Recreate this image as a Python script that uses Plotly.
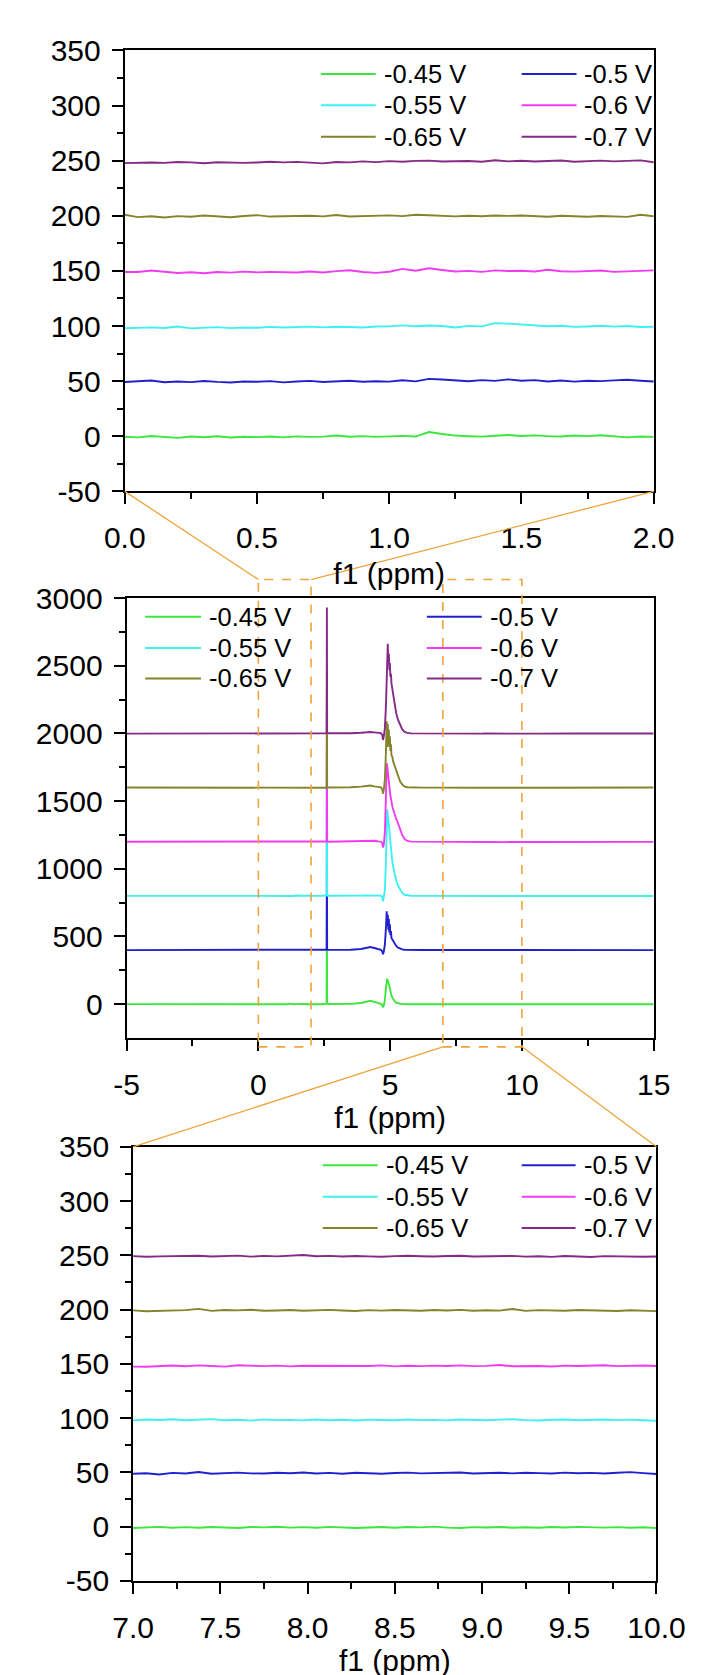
import numpy as np
import plotly.graph_objects as go

W, H = 710, 1675
FONT = "Liberation Sans, Arial, Helvetica, sans-serif"

# ---------------- data ----------------
series_names = ["-0.45 V", "-0.5 V", "-0.55 V", "-0.6 V", "-0.65 V", "-0.7 V"]
series_colors = ["#3ce63c", "#2020cc", "#3ef0f0", "#f03cf0", "#84842a", "#862a86"]

# chemical-shift sampling (ppm) of the stored spectra
edge_left_ppm = [-5.0, -3.5, -2.0, -0.6]
window_lo_ppm = np.round(np.linspace(0.0, 2.0, 41), 3)
peak_ppm = [2.10, 2.40, 2.55, 2.59, 2.60, 2.61, 2.65, 3.00, 3.50, 3.90,
            4.10, 4.25, 4.40, 4.55, 4.65, 4.70, 4.73, 4.76, 4.80, 4.84,
            4.87, 4.89, 4.91, 4.93, 4.95, 4.97, 4.99, 5.01, 5.03, 5.05,
            5.08, 5.12, 5.17, 5.23, 5.30, 5.38, 5.46, 5.55, 5.65, 5.80,
            6.20, 6.60, 6.90]
window_hi_ppm = np.round(np.linspace(7.0, 10.0, 41), 3)
edge_right_ppm = [10.6, 12.0, 13.5, 15.0]

# intensities (a.u.) before stacking offset
edge_l_045 = [0.3, -0.6, 0.2, -0.4]
edge_l_050 = [-0.5, 0.4, -0.8, -0.2]
edge_l_055 = [0.2, -0.7, 0.5, -1.4]
edge_l_060 = [-0.4, 0.6, -0.9, -1.2]
edge_l_065 = [0.5, -0.3, 0.8, -0.6]
edge_l_070 = [-0.8, -1.5, -0.3, -1.9]

lo_045 = [-0.5, -1.0, 0.2, -0.6, -1.5, -0.3, -0.9, 0.0, -1.2, -0.5,
          -0.8, -0.2, -1.0, -0.1, -0.6, -0.4, 0.7, -0.5, 0.1, -0.6,
          -0.2, 0.3, -0.3, 3.8, 2.0, 0.6, 0.0, -0.4, 0.5, 1.1,
          0.2, 0.8, 0.1, -0.3, 0.6, 0.1, 0.9, -0.3, -1.0, -0.2,
          -0.6]
lo_050 = [-0.8, -0.2, 0.6, -1.0, -0.3, -0.9, 0.1, -0.7, -1.2, -0.4,
          -0.6, 0.0, -1.1, -0.3, 0.2, -0.8, -0.2, 0.4, -0.6, -0.1,
          -0.5, 0.8, -0.2, 2.0, 1.5, 0.6, -0.1, 0.9, 0.2, 1.6,
          0.4, 0.9, -0.3, 0.5, -0.5, 0.3, 0.0, 0.7, 1.2, 0.4,
          -0.4]
lo_055 = [-2.0, -1.6, -1.2, -1.8, -0.4, -2.1, -1.5, -1.0, -1.9, -1.3,
          -1.6, -0.8, -1.4, -1.1, -0.6, -1.2, -0.7, -0.9, -1.3, -0.5,
          -0.3, 0.6, -0.2, 0.4, 0.0, -1.4, 0.1, -0.3, 2.6, 2.2,
          1.5, 0.4, -0.2, 0.3, -0.8, -0.4, 0.2, -0.6, 0.0, -0.9,
          -0.5]
lo_060 = [-1.5, -1.0, 0.4, -0.8, -1.9, -1.2, -2.1, -1.0, -1.6, -0.7,
          -1.3, -0.9, -1.1, -1.5, -0.6, -1.4, -0.2, 0.6, -1.0, -1.8,
          -0.8, 1.8, 0.2, 2.4, 0.8, -0.6, 0.0, -0.9, 0.5, -0.1,
          0.2, -0.5, 1.0, -0.3, -0.7, -0.2, 0.3, -0.9, -0.4, 0.1,
          0.5]
lo_065 = [1.0, -1.2, -0.4, -1.5, -0.3, -0.8, 0.2, -0.6, -1.3, -0.2,
          0.6, -0.7, -0.4, 0.3, 0.1, -0.5, 0.7, -0.6, -0.2, 0.0,
          0.4, -0.3, 0.9, 0.5, 0.2, -0.5, 0.0, -0.4, 0.3, -0.1,
          0.2, -0.6, -0.9, 0.1, -0.3, -0.8, -0.2, -0.5, -1.0, 0.9,
          -0.4]
lo_070 = [-2.2, -1.8, -1.6, -2.0, -1.2, -1.5, -2.3, -1.4, -1.7, -2.0,
          -1.6, -0.9, -1.5, -1.1, -1.8, -2.4, -1.2, -1.5, -0.6, -1.3,
          -0.4, -0.9, -0.2, 0.1, -0.8, -0.5, -0.3, -1.0, 0.4, -0.6,
          0.0, -0.7, -0.3, 0.2, -0.9, -0.4, 0.1, -0.6, -0.2, 0.3,
          -1.4]

peak_045 = [0, 0, 1, 4, 640, 5, 1, 0, 2, 9,
            20, 25, 17, 7, 2, -8, -24, -8, 30, 120,
            185, 189, 170, 165, 150, 130, 115, 95, 80, 65,
            50, 35, 22, 12, 6, 3, 1, 0, 0, 0,
            0, 0, 0]
peak_050 = [0, 0, 1, 4, 820, 6, 1, 0, 2, 8,
            16, 22, 15, 6, 2, -10, -32, -10, 40, 160,
            287, 180, 260, 150, 230, 130, 190, 110, 140, 90,
            80, 60, 45, 30, 18, 10, 5, 2, 1, 0,
            0, 0, 0]
peak_055 = [0, 1, 0, 4, 880, 6, 1, 0, 1, 2,
            4, 5, 4, 2, 1, -8, -40, -15, 40, 250,
            520, 640, 600, 560, 500, 460, 410, 370, 330, 300,
            260, 210, 160, 115, 75, 45, 22, 8, 3, 1,
            0, 0, 0]
peak_060 = [0, -1, 1, 3, 780, 5, 0, 1, 2, 4,
            7, 9, 7, 3, 1, -10, -42, -18, 70, 330,
            580, 560, 520, 470, 450, 400, 380, 340, 320, 290,
            265, 235, 200, 170, 135, 90, 50, 20, 6, 1,
            0, 0, 0]
peak_065 = [0, 1, -1, 4, 720, 6, 1, 0, 3, 7,
            13, 15, 9, 5, 2, -12, -45, -15, 60, 260,
            490, 300, 470, 330, 430, 300, 380, 270, 320, 240,
            230, 190, 160, 130, 85, 45, 22, 8, 3, 1,
            0, 0, -1]
peak_070 = [0, -2, 1, 5, 930, 8, 2, 0, 2, 5,
            9, 11, 8, 4, 3, -10, -48, -20, 40, 200,
            420, 610, 663, 520, 590, 470, 520, 420, 440, 370,
            330, 280, 210, 150, 100, 60, 30, 12, 4, 1,
            0, -1, 0]

hi_045 = [-1.4, -0.8, -0.3, -1.1, -0.6, -1.2, -0.5, -0.9, -1.3, -0.4,
          -0.8, -0.2, -1.0, -0.6, -1.1, -0.3, -0.7, -1.4, -0.9, -0.5,
          -1.2, -0.4, -0.8, -0.1, -1.0, -1.3, -0.6, -0.9, -0.4, -1.1,
          -0.7, -1.2, -0.5, -0.9, -0.3, -0.8, -1.0, -0.6, -1.2, -0.7,
          -1.5]
hi_050 = [-1.3, -0.9, -2.0, -0.6, -1.1, 0.2, -1.4, -0.8, -0.3, -1.0,
          -1.2, -0.5, -0.9, -0.2, -1.1, -0.6, -1.3, -0.4, -0.8, -1.4,
          -0.7, -0.3, -1.0, -0.6, -0.9, -0.2, -1.2, -0.7, -0.5, -1.0,
          -0.4, -0.8, -1.1, -0.3, -0.9, -0.6, -1.2, -0.5, 0.1, -0.8,
          -1.6]
hi_055 = [-2.2, -1.4, -1.8, -1.2, -2.0, -1.5, -1.0, -2.1, -1.6, -2.4,
          -1.3, -1.9, -1.7, -2.2, -1.4, -2.0, -1.6, -2.3, -1.5, -1.8,
          -2.1, -1.4, -1.9, -1.7, -2.2, -1.3, -1.8, -2.0, -1.5, -1.1,
          -1.9, -2.3, -1.6, -1.4, -2.0, -1.7, -1.3, -1.9, -1.5, -2.1,
          -2.6]
hi_060 = [-2.5, -2.8, -2.0, -1.6, -2.3, -1.5, -2.1, -2.6, -1.4, -1.9,
          -2.2, -1.7, -2.4, -1.8, -2.0, -1.6, -2.3, -1.9, -2.1, -1.5,
          -2.4, -1.8, -2.2, -1.7, -2.0, -1.5, -2.2, -1.9, -1.1, -2.3,
          -1.8, -2.0, -2.5, -1.7, -2.1, -1.9, -1.4, -2.2, -1.8, -1.6,
          -2.0]
hi_065 = [-0.8, -1.6, -1.2, -0.9, -0.6, 0.6, -1.3, -0.4, -0.8, -0.2,
          -1.1, -0.9, -0.5, -1.2, -0.7, -0.3, -0.9, -1.4, -0.6, -1.0,
          -0.5, -0.8, -1.2, -0.4, -0.9, -0.3, -1.1, -0.7, -1.0, 0.5,
          -1.3, -0.6, -0.9, -1.2, -0.5, -0.8, -1.0, -1.4, -0.7, -1.3,
          -1.5]
hi_070 = [-0.5, -1.4, -1.0, -0.7, -0.9, -0.4, -1.2, -0.8, -0.3, -1.3,
          -0.6, -1.0, -0.5, 0.3, -0.9, -0.6, -1.1, -0.7, -1.0, -1.4,
          -0.8, -0.5, -0.9, -1.2, -0.7, -0.4, -1.1, -0.8, -1.0, -0.6,
          -1.3, -0.9, -1.5, -0.7, -1.1, -1.6, -0.8, -1.2, -1.0, -1.4,
          -1.2]

edge_r_045 = [-0.9, -0.2, 0.4, -0.5]
edge_r_050 = [-1.1, -0.3, 0.5, -0.6]
edge_r_055 = [-1.9, -0.6, 0.3, -0.8]
edge_r_060 = [-1.7, -0.5, 0.2, -0.9]
edge_r_065 = [-1.2, 0.3, -0.4, 0.6]
edge_r_070 = [-1.0, -0.4, 0.7, -0.5]

mid_offset_step = 400    # stacking offset in the full-range panel
zoom_offset_step = 50    # stacking offset in the zoomed panels

# tick values / labels
zoom_y_ticks = [-50, 0, 50, 100, 150, 200, 250, 300, 350]
zoom_y_labels = ["-50", "0", "50", "100", "150", "200", "250", "300", "350"]
zoom_y_minor = [-25, 25, 75, 125, 175, 225, 275, 325]
top_x_ticks = [0.0, 0.5, 1.0, 1.5, 2.0]
top_x_labels = ["0.0", "0.5", "1.0", "1.5", "2.0"]
top_x_minor = [0.25, 0.75, 1.25, 1.75]
mid_x_ticks = [-5, 0, 5, 10, 15]
mid_x_labels = ["-5", "0", "5", "10", "15"]
mid_x_minor = [-2.5, 2.5, 7.5, 12.5]
mid_y_ticks = [0, 500, 1000, 1500, 2000, 2500, 3000]
mid_y_labels = ["0", "500", "1000", "1500", "2000", "2500", "3000"]
mid_y_minor = [250, 750, 1250, 1750, 2250, 2750]
bot_x_ticks = [7.0, 7.5, 8.0, 8.5, 9.0, 9.5, 10.0]
bot_x_labels = ["7.0", "7.5", "8.0", "8.5", "9.0", "9.5", "10.0"]
bot_x_minor = [7.25, 7.75, 8.25, 8.75, 9.25, 9.75]

top_range_x, top_range_y = [0, 2], [-50, 350]
mid_range_x, mid_range_y = [-5, 15], [-250, 3000]
bot_range_x, bot_range_y = [7, 10], [-50, 350]
zoom_windows = [(0, 2), (7, 10)]

# ---------------- layout geometry (pixels) ----------------
TOP_X, TOP_Y = (103, 672), (26, 476)
MID_X, MID_Y = (105, 672), (585, 1034)
BOT_X, BOT_Y = (112, 675), (1145, 1588)
BOX_Y = (566, 1043)


def px(p):
    return p / W


def py(p):
    return 1 - p / H


def dx(v, rng, span):
    return span[0] + (v - rng[0]) / (rng[1] - rng[0]) * (span[1] - span[0])


# ---------------- traces ----------------
ppm = np.concatenate([edge_left_ppm, window_lo_ppm, peak_ppm, window_hi_ppm, edge_right_ppm])
spectra = [
    (edge_l_045, lo_045, peak_045, hi_045, edge_r_045),
    (edge_l_050, lo_050, peak_050, hi_050, edge_r_050),
    (edge_l_055, lo_055, peak_055, hi_055, edge_r_055),
    (edge_l_060, lo_060, peak_060, hi_060, edge_r_060),
    (edge_l_065, lo_065, peak_065, hi_065, edge_r_065),
    (edge_l_070, lo_070, peak_070, hi_070, edge_r_070),
]

fig = go.Figure()
for i, (name, color, parts) in enumerate(zip(series_names, series_colors, spectra)):
    inten = np.concatenate([np.asarray(p, dtype=float) for p in parts])
    for xa, ya, step in (("x", "y", zoom_offset_step),
                         ("x2", "y2", mid_offset_step),
                         ("x3", "y3", zoom_offset_step)):
        fig.add_trace(go.Scatter(
            x=ppm, y=inten + i * step, mode="lines", name=name,
            line=dict(color=color, width=1.9),
            xaxis=xa, yaxis=ya, showlegend=False, hoverinfo="skip"))


def axis(rng, ticks, labels, minor, dom, anchor, is_x, title_standoff=None):
    d = dict(
        range=rng, domain=dom, anchor=anchor,
        tickmode="array", tickvals=ticks, ticktext=labels,
        showline=True, linecolor="black", linewidth=2, mirror=True,
        ticks="outside", ticklen=11, tickwidth=2, tickcolor="black",
        ticklabelstandoff=8 if is_x else 5,
        showgrid=False, zeroline=False,
        tickfont=dict(family=FONT, size=30, color="black"),
        minor=dict(tickmode="array", tickvals=minor, ticks="outside",
                   ticklen=6, tickwidth=2, tickcolor="black", showgrid=False),
    )
    if title_standoff is not None:
        d["title"] = dict(text="f1 (ppm)", font=dict(family=FONT, size=30, color="black"),
                          standoff=title_standoff)
    return d


fig.update_layout(
    width=W, height=H, autosize=False,
    margin=dict(l=0, r=0, t=0, b=0),
    paper_bgcolor="white", plot_bgcolor="white",
    font=dict(family=FONT, color="black"),
    xaxis=axis(top_range_x, top_x_ticks, top_x_labels, top_x_minor,
               [px(TOP_X[0]), px(TOP_X[1])], "y", True, 10),
    yaxis=axis(top_range_y, zoom_y_ticks, zoom_y_labels, zoom_y_minor,
               [py(TOP_Y[1]), py(TOP_Y[0])], "x", False),
    xaxis2=axis(mid_range_x, mid_x_ticks, mid_x_labels, mid_x_minor,
                [px(MID_X[0]), px(MID_X[1])], "y2", True, 2),
    yaxis2=axis(mid_range_y, mid_y_ticks, mid_y_labels, mid_y_minor,
                [py(MID_Y[1]), py(MID_Y[0])], "x2", False),
    xaxis3=axis(bot_range_x, bot_x_ticks, bot_x_labels, bot_x_minor,
                [px(BOT_X[0]), px(BOT_X[1])], "y3", True, 0),
    yaxis3=axis(bot_range_y, zoom_y_ticks, zoom_y_labels, zoom_y_minor,
                [py(BOT_Y[1]), py(BOT_Y[0])], "x3", False),
)

shapes = []
annotations = []
ORANGE = "#eea43c"

# dashed zoom boxes in the middle panel
for (a, b) in zoom_windows:
    shapes.append(dict(type="rect", xref="x2", yref="paper", x0=a, x1=b,
                       y0=py(BOX_Y[1]), y1=py(BOX_Y[0]),
                       line=dict(color=ORANGE, width=1.6, dash="dash"),
                       fillcolor="rgba(0,0,0,0)", layer="above"))

# connector lines
a, b = zoom_windows[0]
for v_top, v_mid in ((top_range_x[0], a), (top_range_x[1], b)):
    shapes.append(dict(type="line", xref="paper", yref="paper",
                       x0=px(dx(v_top, top_range_x, TOP_X)), y0=py(TOP_Y[1]),
                       x1=px(dx(v_mid, mid_range_x, MID_X)), y1=py(BOX_Y[0]),
                       line=dict(color=ORANGE, width=1.3)))
a, b = zoom_windows[1]
for v_mid, v_bot in ((a, bot_range_x[0]), (b, bot_range_x[1])):
    shapes.append(dict(type="line", xref="paper", yref="paper",
                       x0=px(dx(v_mid, mid_range_x, MID_X)), y0=py(BOX_Y[1]),
                       x1=px(dx(v_bot, bot_range_x, BOT_X)), y1=py(BOT_Y[0]),
                       line=dict(color=ORANGE, width=1.3)))

# legends (two columns x three rows in each panel)
legend_geom = [
    dict(rows=[50, 82, 114], cols=[(314, 373, 380), (530, 589, 595)]),
    dict(rows=[604, 636, 667], cols=[(125, 185, 191), (428, 487, 494)]),
    dict(rows=[1164, 1196, 1228], cols=[(316, 375, 382), (530, 588, 595)]),
]
for g in legend_geom:
    for i, (name, color) in enumerate(zip(series_names, series_colors)):
        col = i % 2
        row = i // 2
        x0, x1, xt = g["cols"][col]
        yy = g["rows"][row]
        shapes.append(dict(type="line", xref="paper", yref="paper",
                           x0=px(x0), x1=px(x1), y0=py(yy), y1=py(yy),
                           line=dict(color=color, width=2)))
        annotations.append(dict(xref="paper", yref="paper", x=px(xt), y=py(yy),
                                text=name, showarrow=False, xanchor="left",
                                yanchor="middle",
                                font=dict(family=FONT, size=25.5, color="black")))

fig.update_layout(shapes=shapes, annotations=annotations)
fig.write_html("out.html")
